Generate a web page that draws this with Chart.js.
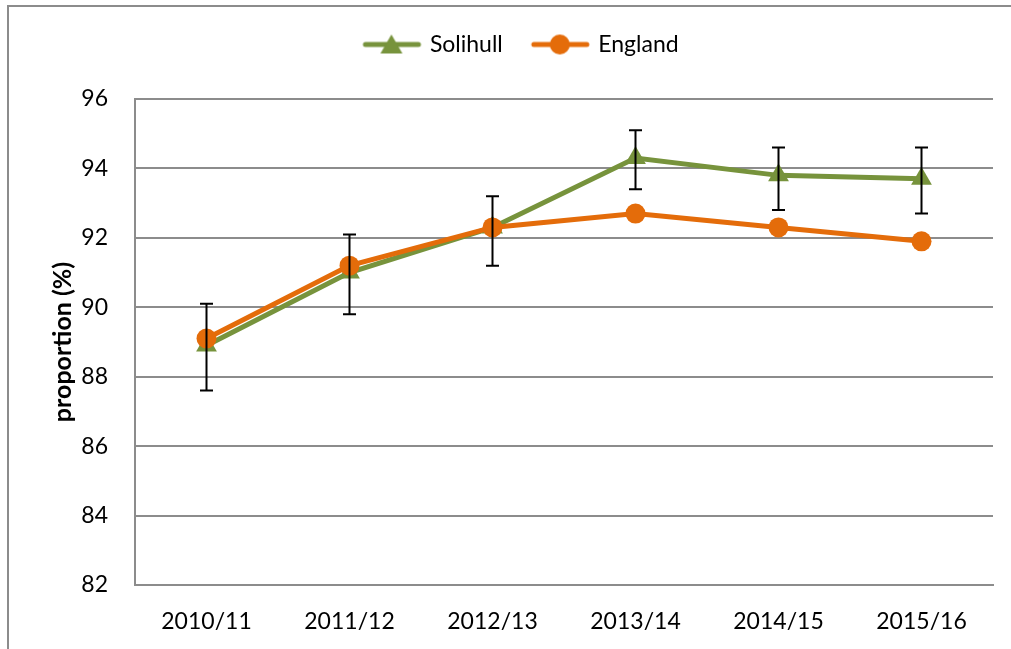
<!DOCTYPE html>
<html>
<head>
<meta charset="utf-8">
<script src="https://cdn.jsdelivr.net/npm/chart.js@4.4.1/dist/chart.umd.min.js"></script>
<style>
	body { margin: 0; background: #ffffff; }
	#wrap { position: relative; width: 1011px; height: 649px; }
	#frame {
		position: absolute;
		left: 7px;
		top: 5px;
		width: 1100px;
		height: 700px;
		border-left: 2px solid #8c8c8c;
		border-top: 2px solid #8c8c8c;
		pointer-events: none;
	}
	canvas { position: absolute; left: 0; top: 0; }
</style>
</head>
<body>
<div id="wrap">
	<div id="frame"></div>
	<canvas id="chart" width="1011" height="649"></canvas>
</div>
<script>
const years = ["2010/11", "2011/12", "2012/13", "2013/14", "2014/15", "2015/16"];
const solihull = [88.9, 91.0, 92.3, 94.3, 93.8, 93.7];
const solihullLower = [87.6, 89.8, 91.2, 93.4, 92.8, 92.7];
const solihullUpper = [90.1, 92.1, 93.2, 95.1, 94.6, 94.6];
const england = [89.1, 91.2, 92.3, 92.7, 92.3, 91.9];

const green = "#77933c";
const orange = "#e46c0a";
const gridColor = "#8c8c8c";
const fontFamily = "Lato, 'Liberation Sans', sans-serif";

function legendIcon(color, shape) {
	const canvas = document.createElement("canvas");
	canvas.width = 68;
	canvas.height = 24;
	const ctx = canvas.getContext("2d");
	ctx.strokeStyle = color;
	ctx.lineWidth = 5;
	ctx.lineCap = "round";
	ctx.beginPath();
	ctx.moveTo(9, 12);
	ctx.lineTo(62, 12);
	ctx.stroke();
	ctx.fillStyle = color;
	ctx.beginPath();
	if (shape === "triangle") {
		ctx.moveTo(35, 2);
		ctx.lineTo(46, 21);
		ctx.lineTo(24, 21);
		ctx.closePath();
	}
	else {
		ctx.arc(35, 12, 10, 0, Math.PI * 2);
	}
	ctx.fill();
	return canvas;
}

const icons = [legendIcon(green, "triangle"), legendIcon(orange, "circle")];

// black error bars drawn through the chart's own scales
const errorBars = {
	id: "errorBars",
	afterDatasetsDraw(chart) {
		const ctx = chart.ctx;
		const x = chart.scales.x;
		const y = chart.scales.y;
		ctx.save();
		ctx.strokeStyle = "#000000";
		ctx.lineWidth = 2;
		for (let i = 0; i < years.length; i++) {
			const px = x.getPixelForValue(i);
			const top = y.getPixelForValue(solihullUpper[i]);
			const bottom = y.getPixelForValue(solihullLower[i]);
			ctx.beginPath();
			ctx.moveTo(px, top);
			ctx.lineTo(px, bottom);
			ctx.moveTo(px - 6.5, top);
			ctx.lineTo(px + 6.5, top);
			ctx.moveTo(px - 6.5, bottom);
			ctx.lineTo(px + 6.5, bottom);
			ctx.stroke();
		}
		ctx.restore();
	}
};

// extra room between legend and plot
const legendMargin = {
	id: "legendMargin",
	beforeInit(chart) {
		const fit = chart.legend.fit;
		chart.legend.fit = function () {
			fit.bind(chart.legend)();
			this.height += 33;
		};
	}
};

new Chart(document.getElementById("chart"), {
	type: "line",
	data: {
		labels: years,
		datasets: [
			{
				label: "Solihull",
				data: solihull,
				borderColor: green,
				backgroundColor: green,
				borderWidth: 5,
				pointStyle: "triangle",
				pointRadius: 12,
				pointBorderWidth: 0,
				tension: 0,
				order: 2
			},
			{
				label: "England",
				data: england,
				borderColor: orange,
				backgroundColor: orange,
				borderWidth: 5,
				pointStyle: "circle",
				pointRadius: 10,
				pointBorderWidth: 0,
				tension: 0,
				order: 1
			}
		]
	},
	options: {
		responsive: false,
		animation: false,
		devicePixelRatio: 1,
		layout: {
			padding: { left: 48, right: 18, top: 5, bottom: 0 }
		},
		plugins: {
			tooltip: { enabled: false },
			legend: {
				position: "top",
				align: "center",
				labels: {
					usePointStyle: true,
					pointStyleWidth: 56,
					boxHeight: 24,
					color: "#000000",
					padding: 28,
					font: { family: fontFamily, size: 23 },
					generateLabels(chart) {
						return chart.data.datasets.map((ds, i) => ({
							text: ds.label,
							pointStyle: icons[i],
							fillStyle: ds.borderColor,
							strokeStyle: ds.borderColor,
							lineWidth: 0,
							hidden: false,
							datasetIndex: i,
							fontColor: "#000000"
						}));
					}
				}
			}
		},
		scales: {
			x: {
				offset: true,
				afterFit(scale) {
					scale.height = 64;
				},
				grid: { display: false, drawTicks: false },
				border: { display: true, color: gridColor, width: 2 },
				ticks: {
					color: "#000000",
					padding: 23,
					maxRotation: 0,
					font: { family: fontFamily, size: 23 }
				}
			},
			y: {
				min: 82,
				max: 96,
				afterFit(scale) {
					scale.width = 87;
				},
				grid: { color: gridColor, lineWidth: 2, drawTicks: false },
				border: { display: true, color: gridColor, width: 2 },
				ticks: {
					stepSize: 2,
					color: "#000000",
					padding: 27,
					font: { family: fontFamily, size: 23 }
				},
				title: {
					display: true,
					text: "proportion (%)",
					color: "#000000",
					padding: { top: 0, bottom: 0 },
					font: { family: fontFamily, size: 25, weight: "bold" }
				}
			}
		}
	},
	plugins: [errorBars, legendMargin]
});
</script>
</body>
</html>
